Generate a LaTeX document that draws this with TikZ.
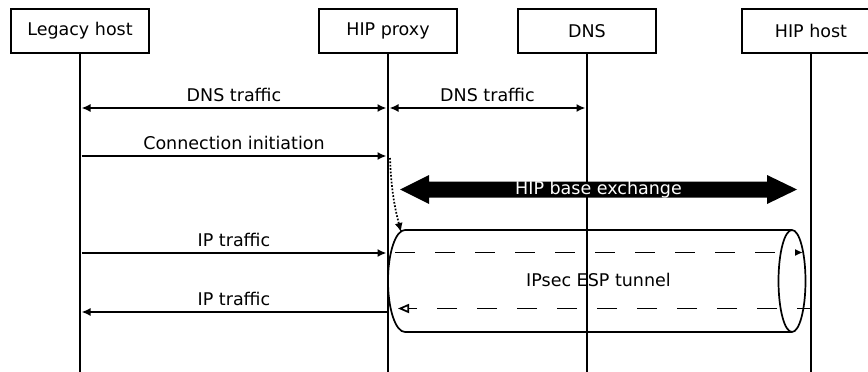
\documentclass[tikz,border=0pt]{standalone}
\usepackage{fontspec}
\setmainfont{DejaVu Sans}
\usetikzlibrary{arrows.meta}

\begin{document}
\begin{tikzpicture}[x=1pt,y=-1pt,>={Latex[length=9pt,width=8pt]},
  font=\fontsize{17.5}{21}\selectfont,
  actor/.style={draw,line width=2pt,minimum width=138pt,minimum height=44pt},
  lifeline/.style={line width=2pt},
  msg/.style={line width=1.7pt,shorten >=1.5pt,shorten <=1.5pt},
  msglabel/.style={midway,anchor=base,yshift=7pt},
  tube/.style={line width=1.7pt},
  esp/.style={line width=1.7pt,dash pattern=on 20pt off 20pt}]
  \useasboundingbox (0,0) rectangle (868,372);
  \clip (0,0) rectangle (868,372);
  % participants
  \node[actor] (legacy) at (80,31) {Legacy host};
  \node[actor] (proxy) at (388,31) {HIP proxy};
  \node[actor] (dns) at (587,31) {DNS};
  \node[actor] (hip) at (811,31) {HIP host};
  \coordinate (bottom) at (0,372);
  \draw[lifeline] (legacy) -- (legacy |- bottom);
  \draw[lifeline] (proxy) -- (proxy |- bottom);
  \draw[lifeline] (dns) -- (dns |- bottom);
  \draw[lifeline] (hip) -- (hip |- bottom);
  % message rows
  \coordinate (dnsrow) at (0,108);
  \coordinate (connrow) at (0,156);
  \coordinate (iprow) at (0,253);
  \coordinate (backrow) at (0,312);
  \draw[msg,<->] (legacy |- dnsrow) -- (proxy |- dnsrow) node[msglabel] {DNS traffic};
  \draw[msg,<->] (proxy |- dnsrow) -- (dns |- dnsrow) node[msglabel] {DNS traffic};
  \draw[msg,->] (legacy |- connrow) -- (proxy |- connrow) node[msglabel] {Connection initiation};
  \coordinate (dotstart) at (390,158);
  \coordinate (dotend) at (401,232);
  \draw[line width=1.7pt,dash pattern=on 1.7pt off 1.7pt,->] (dotstart) to[bend right=6] (dotend);
  % base exchange
  \fill (400,189.5) -- (429,175) -- (429,181.5) -- (767,181.5) -- (767,175)
    -- (797,189.5) -- (767,204) -- (767,197.5) -- (429,197.5) -- (429,204) -- cycle;
  \node[text=white] (bex) at (598.5,189.5) {HIP base exchange};
  % tunnel
  \draw[tube] (405,230) -- (792,230);
  \draw[tube] (405,332) -- (792,332);
  \draw[tube] (792,281) ellipse[x radius=13.5,y radius=51];
  \draw[tube] (405,230) arc[start angle=270,end angle=90,x radius=17,y radius=51];
  \node[anchor=base] (tunnel) at (598.5,286) {IPsec ESP tunnel};
  \coordinate (espin) at (395,252.5);
  \coordinate (espout) at (803,252.5);
  \coordinate (espback) at (811,308.5);
  \coordinate (espend) at (398,308.5);
  \draw[esp,-{Latex[length=8pt,width=7pt]}] (espin) -- (espout);
  \draw[esp,dash phase=6pt,-{Triangle[open,length=11pt,width=9pt]}] (espback) -- (espend);
  \draw[msg,->] (legacy |- iprow) -- (proxy |- iprow) node[msglabel] {IP traffic};
  \draw[msg,->] (proxy |- backrow) -- (legacy |- backrow) node[msglabel] {IP traffic};
\end{tikzpicture}
\end{document}
